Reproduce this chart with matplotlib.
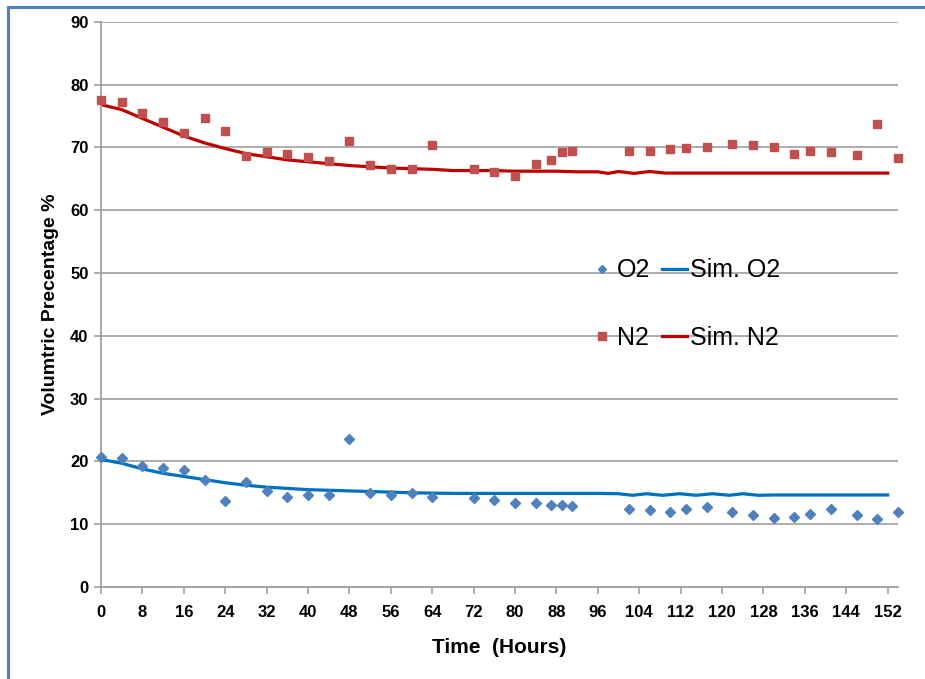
import matplotlib
matplotlib.use("Agg")
import matplotlib.pyplot as plt
from matplotlib.lines import Line2D

# ---- data ----
o2_hours = [0, 4, 8, 12, 16, 20, 24, 28, 32, 36, 40, 44, 48, 52, 56, 60, 64, 72, 76,
            80, 84, 87, 89, 91, 102, 106, 110, 113, 117, 122, 126, 130, 134, 137, 141,
            146, 150, 154]
o2_values = [20.7, 20.5, 19.3, 19.0, 18.6, 17.1, 13.7, 16.7, 15.3, 14.3, 14.6, 14.6,
             23.5, 15.0, 14.6, 14.9, 14.3, 14.1, 13.9,
             13.4, 13.4, 13.1, 13.1, 12.9, 12.4, 12.2, 12.0, 12.4, 12.7, 12.0, 11.5,
             11.0, 11.2, 11.7, 12.4, 11.5, 10.8, 12.0]

n2_hours = o2_hours
n2_values = [77.5, 77.2, 75.4, 74.0, 72.3, 74.7, 72.6, 68.6, 69.2, 68.9, 68.5, 67.9,
             71.0, 67.2, 66.5, 66.5, 70.4, 66.5, 66.1,
             65.5, 67.3, 68.0, 69.2, 69.4, 69.4, 69.4, 69.7, 69.9, 70.1, 70.6, 70.4,
             70.1, 69.0, 69.4, 69.2, 68.7, 73.7, 68.3]

sim_n2_hours = [0, 4, 8, 12, 16, 20, 24, 28, 32, 36, 40, 44, 48, 52, 56, 60, 64, 68,
                72, 76, 80, 84, 88, 92, 96, 98, 100, 103, 106, 109, 112, 120, 130,
                140, 152]
sim_n2_values = [76.8, 76.0, 74.6, 73.2, 71.8, 70.7, 69.8, 69.0, 68.5, 68.0, 67.7,
                 67.4, 67.1, 66.9, 66.7, 66.6, 66.5, 66.3, 66.3, 66.3, 66.2, 66.2,
                 66.2, 66.1, 66.1, 65.85, 66.15, 65.85, 66.15, 65.9, 65.9, 65.9, 65.9,
                 65.9, 65.9]

sim_o2_hours = [0, 4, 8, 12, 16, 20, 24, 28, 32, 36, 40, 44, 48, 52, 56, 60, 64, 68,
                72, 76, 80, 88, 96, 100, 102.7, 105.4, 108.5, 111.8, 115, 118.2,
                121.4, 124, 127, 130, 140, 152]
sim_o2_values = [20.3, 19.7, 18.8, 18.1, 17.6, 17.1, 16.6, 16.2, 15.9, 15.7, 15.5,
                 15.4, 15.3, 15.2, 15.1, 15.0, 14.95, 14.9, 14.9, 14.9, 14.9, 14.9,
                 14.9, 14.85, 14.6, 14.85, 14.6, 14.85, 14.6, 14.85, 14.6, 14.85,
                 14.6, 14.65, 14.65, 14.65]

x_ticks = list(range(0, 153, 8))
y_ticks = list(range(0, 91, 10))

# ---- figure ----
fig = plt.figure(figsize=(9.25, 6.79), dpi=100)
fig.patch.set_facecolor("white")
ax = fig.add_axes([101 / 925, 1 - 587 / 679, 797 / 925, (587 - 21.7) / 679])

fam = ["Liberation Sans Narrow", "Liberation Sans", "DejaVu Sans"]
tick_font = dict(family=fam, weight="bold", size=12)

ax.plot(o2_hours, o2_values, linestyle="none", marker="D", markersize=5.2,
        color="#4F81BD", label="O2", zorder=3, clip_on=False)
ax.plot(n2_hours, n2_values, linestyle="none", marker="s", markersize=6.2,
        color="#C0504D", label="N2", zorder=3, clip_on=False)
ax.plot(sim_o2_hours, sim_o2_values, color="#0070C0", linewidth=2.3,
        label="Sim. O2", zorder=2)
ax.plot(sim_n2_hours, sim_n2_values, color="#C00000", linewidth=2.3,
        label="Sim. N2", zorder=2)

ax.set_xlim(0, 154)
ax.set_ylim(0, 90)
ax.set_xticks(x_ticks)
ax.set_yticks(y_ticks)
ax.set_xticklabels([str(t) for t in x_ticks], fontdict=tick_font)
ax.set_yticklabels([str(t) for t in y_ticks], fontdict=tick_font)
ax.tick_params(axis="both", colors="#A0A0A0", length=5, width=1.2, labelcolor="black")
ax.tick_params(axis="x", pad=8)
ax.tick_params(axis="y", pad=4)

ax.yaxis.grid(True, color="#A6A6A6", linewidth=1.3, zorder=0)
ax.set_axisbelow(True)
for side in ("top", "right"):
    ax.spines[side].set_visible(False)
for side in ("left", "bottom"):
    ax.spines[side].set_color("#A0A0A0")
    ax.spines[side].set_linewidth(1.3)

label_font = dict(family=fam, weight="bold")
ax.set_xlabel("Time  (Hours)", fontsize=15, labelpad=13, **label_font)
ax.set_ylabel("Volumtric Precentage %", fontsize=14, labelpad=8, **label_font)

handles, labels = ax.get_legend_handles_labels()
leg = ax.legend(handles, labels, ncol=2, frameon=False, loc="center left",
                bbox_to_anchor=(0.597, 0.5),
                prop=dict(family=["Liberation Sans", "DejaVu Sans"], size=18),
                handlelength=1.0, handletextpad=0.12, columnspacing=0.45,
                labelspacing=1.75, borderpad=0)
leg.legend_handles[0].set_markersize(4.5)
leg.legend_handles[1].set_markersize(6)

# blue frame (top and left edges)
fig.add_artist(Line2D([8 / 925, 1], [1 - 7 / 679, 1 - 7 / 679], color="#4F81BD",
                      linewidth=2.2, transform=fig.transFigure))
fig.add_artist(Line2D([8 / 925, 8 / 925], [0, 1 - 7 / 679], color="#4F81BD",
                      linewidth=2.2, transform=fig.transFigure))

fig.savefig("out.png", dpi=100)
